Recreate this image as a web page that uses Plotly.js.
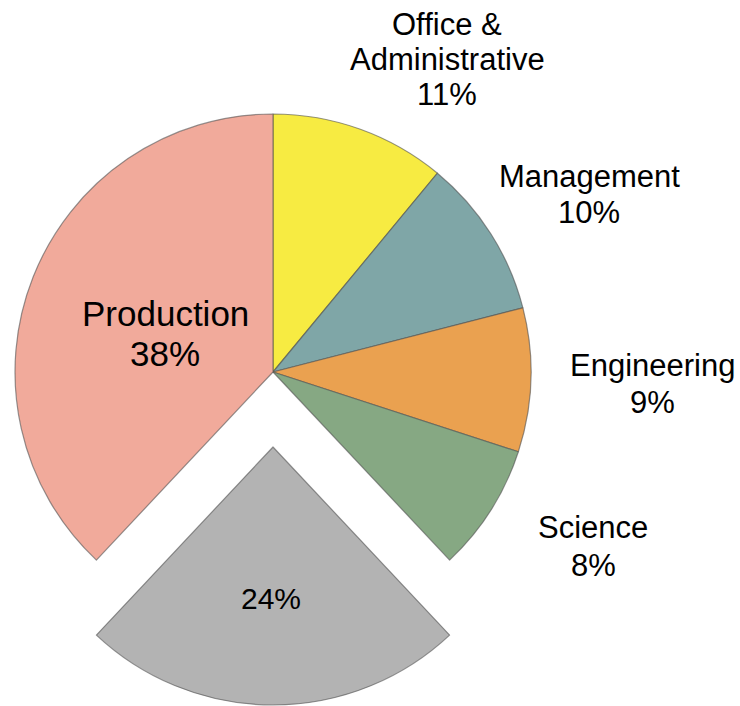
<!DOCTYPE html>
<html>
<head>
<meta charset="utf-8">
<script src="https://cdn.plot.ly/plotly-3.0.1.min.js"></script>
<style>
  html, body { margin: 0; padding: 0; background: #ffffff; }
  #chart { width: 740px; height: 706px; }
</style>
</head>
<body>
<div id="chart"></div>
<script>
// ---- data ----
const categories = ["Office & Administrative", "Management", "Engineering", "Science", "Other", "Production"];
const shares = [11, 10, 9, 8, 24, 38];
const labelLines = [["Office &", "Administrative"], ["Management"], ["Engineering"], ["Science"], [], ["Production"]];
const pulledIndex = 4;

// ---- styling / layout ----
const sliceColors = ["#F7EB42", "#7FA6A7", "#EAA150", "#86A883", "#B3B3B3", "#F1AA9B"];
const W = 740, H = 706;
const CX = 273, CY = 372, R = 258, PULL_PX = 75;
const FONT = "Liberation Sans, Arial, sans-serif";
// label layout: [centre x, first baseline y, line step, font size] in pixels
const labelLayout = [
  [447, 35, 35, 31],
  [589, 187, 36, 31],
  [652, 376, 37, 31],
  [593, 538, 38, 31],
  [271, 609, 36, 30],
  [165, 326, 40, 35]
];

function domainFor(cx, cy, r) {
  return {
    x: [(cx - r) / W, (cx + r) / W],
    y: [1 - (cy + r) / H, 1 - (cy - r) / H]
  };
}

const total = shares.reduce((a, b) => a + b, 0);
let before = 0;
for (let i = 0; i < pulledIndex; i++) before += shares[i];
const midDeg = (before + shares[pulledIndex] / 2) / total * 360; // clockwise from 12 o'clock
const offX = PULL_PX * Math.sin(midDeg * Math.PI / 180);
const offY = -PULL_PX * Math.cos(midDeg * Math.PI / 180);

const clear = "rgba(0,0,0,0)";
const edge = "rgba(80,80,80,0.6)";

function pieTrace(visibleFn, dom) {
  return {
    type: "pie",
    labels: categories,
    values: shares,
    sort: false,
    direction: "clockwise",
    rotation: 0,
    textinfo: "none",
    hoverinfo: "skip",
    showlegend: false,
    marker: {
      colors: sliceColors.map((c, i) => visibleFn(i) ? c : clear),
      line: { color: edge, width: shares.map((v, i) => visibleFn(i) ? 1.2 : 0) }
    },
    domain: dom
  };
}

const mainTrace = pieTrace(i => i !== pulledIndex, domainFor(CX, CY, R));
const pulledTrace = pieTrace(i => i === pulledIndex, domainFor(CX + offX, CY + offY, R));

const annotations = [];
categories.forEach((c, i) => {
  const lines = labelLines[i].concat([shares[i] + "%"]);
  const [lx, base0, step, size] = labelLayout[i];
  lines.forEach((ln, k) => {
    const baseline = base0 + k * step;
    annotations.push({
      text: ln.replace("&", "&amp;"),
      xref: "paper", yref: "paper",
      x: lx / W, y: 1 - (baseline - 0.35 * size) / H,
      xanchor: "center", yanchor: "middle",
      showarrow: false,
      borderpad: 0,
      font: { family: FONT, size: size, color: "#000000" }
    });
  });
});

const layout = {
  width: W, height: H,
  margin: { l: 0, r: 0, t: 0, b: 0 },
  paper_bgcolor: "#ffffff",
  plot_bgcolor: "#ffffff",
  showlegend: false,
  annotations: annotations
};

Plotly.newPlot("chart", [mainTrace, pulledTrace], layout, { displayModeBar: false, staticPlot: true });
</script>
</body>
</html>
